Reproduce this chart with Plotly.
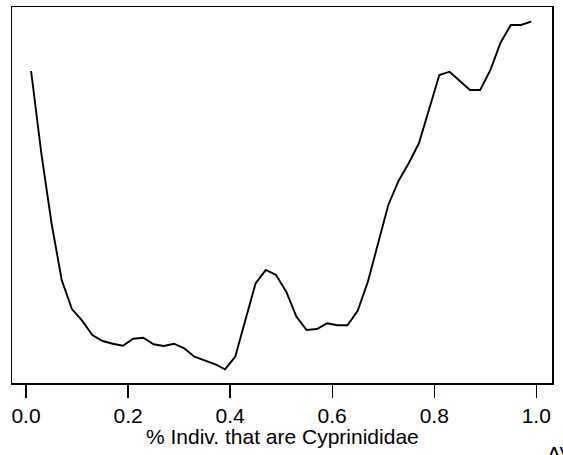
import plotly.graph_objects as go

# x positions: proportion of individuals that are Cyprinidae
x_vals = [round(0.01 + 0.02 * k, 2) for k in range(50)]

# response (arbitrary units)
y_vals = [312.0, 230.0, 160.0, 103.0, 74.0, 62.3, 48.0, 42.0, 39.3, 37.3,
          44.3, 45.3, 38.7, 37.0, 39.3, 34.7, 26.3, 23.0, 19.0, 13.7,
          26.3, 63.0, 99.7, 113.0, 108.0, 91.3, 66.3, 53.0, 54.0, 59.7,
          57.7, 57.7, 72.3, 101.3, 139.7, 178.0, 202.0, 219.7, 239.7, 274.7,
          308.0, 311.3, 302.0, 293.0, 293.0, 313.0, 340.3, 358.0, 358.0, 361.3]

x_tickvals = [0.0, 0.2, 0.4, 0.6, 0.8, 1.0]
x_ticktext = ["0.0", "0.2", "0.4", "0.6", "0.8", "1.0"]
x_title = "% Indiv. that are Cyprinididae"
corner_text = "AV"

FONT = "Liberation Sans, Arial, sans-serif"

fig = go.Figure()
fig.add_trace(go.Scatter(x=x_vals, y=y_vals, mode="lines",
                         line=dict(color="black", width=1.9),
                         showlegend=False, hoverinfo="skip"))

fig.update_layout(
    template="none",
    width=563, height=455,
    margin=dict(l=12, r=11, t=7, b=72, pad=0),
    paper_bgcolor="white", plot_bgcolor="white",
    font=dict(family=FONT, size=21, color="black"),
    xaxis=dict(range=[-0.0274, 1.0308], tickvals=x_tickvals, ticktext=x_ticktext,
               ticks="outside", ticklen=13, tickwidth=1.3, tickcolor="black",
               showline=True, linecolor="black", linewidth=1.5, mirror=True,
               showgrid=False, zeroline=False, automargin=False,
               tickfont=dict(family=FONT, size=21, color="black")),
    yaxis=dict(range=[0, 376], showticklabels=False, ticks="",
               showline=True, linecolor="black", linewidth=1.5, mirror=True,
               showgrid=False, zeroline=False, automargin=False),
    annotations=[
        dict(text=x_title, xref="paper", yref="paper",
             x=0.5, y=-0.1436, xanchor="center", yanchor="middle",
             showarrow=False, font=dict(family=FONT, size=21, color="black")),
        dict(text=corner_text, xref="paper", yref="paper",
             x=0.987, y=-0.1516, xanchor="left", yanchor="top",
             showarrow=False, font=dict(family=FONT, size=21, color="black")),
    ],
)

fig.write_html(
    "out.html",
    config={"displayModeBar": False, "staticPlot": True},
    post_script="document.body.style.margin='0';document.body.style.padding='0';"
                "document.body.style.overflow='hidden';",
)
